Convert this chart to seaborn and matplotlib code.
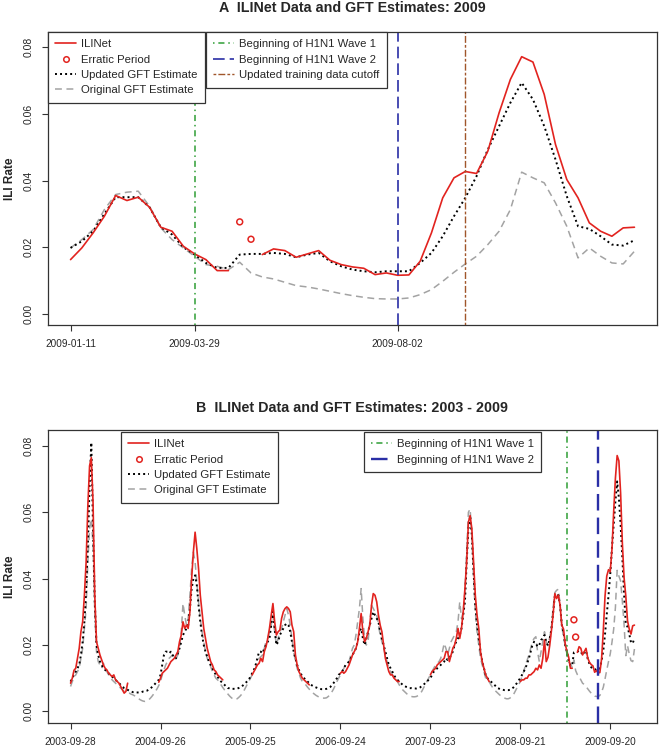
import matplotlib.pyplot as plt
import numpy as np
import pandas as pd
import seaborn as sns
from matplotlib.lines import Line2D

nan = np.nan

# ---------------- 2009 weekly values (panel A, also tail of panel B)
start_2009 = '2009-01-11'
ili_2009 = [0.0163, 0.0198, 0.0243, 0.0293, 0.0355, 0.034, 0.035, 0.032, 0.026, 0.0248,
            0.0203, 0.018, 0.0163, 0.013, 0.013, nan, nan, 0.0178, 0.0195, 0.019,
            0.017, 0.018, 0.019, 0.0161, 0.0148, 0.0141, 0.0137, 0.0118, 0.0123, 0.0116,
            0.0117, 0.0158, 0.0243, 0.0348, 0.0408, 0.0427, 0.0421, 0.0488, 0.0603, 0.0703,
            0.0771, 0.0755, 0.0658, 0.0508, 0.0403, 0.0348, 0.0273, 0.0248, 0.0233, 0.0258,
            0.026]
upd_2009 = [0.0198, 0.0218, 0.0248, 0.030, 0.035, 0.035, 0.035, 0.032, 0.026, 0.0238,
            0.020, 0.0178, 0.0153, 0.0138, 0.0138, 0.0178, 0.018, 0.018, 0.0183, 0.018,
            0.017, 0.0178, 0.0183, 0.0158, 0.0143, 0.0133, 0.0128, 0.0125, 0.0128, 0.0128,
            0.0128, 0.0153, 0.0183, 0.0233, 0.0293, 0.0348, 0.0413, 0.0493, 0.0563, 0.0633,
            0.0693, 0.0643, 0.0563, 0.0463, 0.0353, 0.0263, 0.0255, 0.0233, 0.0208, 0.0205,
            0.0221]
orig_2009 = [0.0198, 0.0223, 0.0253, 0.0313, 0.0358, 0.0365, 0.0368, 0.0323, 0.0258, 0.0223,
             0.0198, 0.0173, 0.0148, 0.0143, 0.0133, 0.0155, 0.0123, 0.0111, 0.0105, 0.0095,
             0.0085, 0.0081, 0.0075, 0.0068, 0.0061, 0.0055, 0.005, 0.0046, 0.0045, 0.0045,
             0.0048, 0.0058, 0.0073, 0.0098, 0.0125, 0.015, 0.0173, 0.0208, 0.0248, 0.0313,
             0.0425, 0.0408, 0.0393, 0.0333, 0.0263, 0.0168, 0.0198, 0.0173, 0.0153, 0.015,
             0.0188]

erratic_dates = ['2009-04-26', '2009-05-03']
erratic_vals = [0.0276, 0.0224]

# ---------------- weekly values 2003-09-28 .. 2009-01-04 (panel B)
start_hist = '2003-09-28'
upd_hist = [0.009, 0.010, 0.011, 0.012, 0.013, 0.014, 0.017, 0.021, 0.027, 0.036,
            0.050, 0.068, 0.081, 0.055, 0.033, 0.020, 0.017, 0.015, 0.014, 0.013,
            0.0125, 0.012, 0.0115, 0.011, 0.0105, 0.010, 0.0095, 0.009, 0.0085, 0.008,
            0.0075, 0.007, 0.0068, 0.0065, 0.0062, 0.006, 0.0058, 0.0058, 0.0057, 0.0057,
            0.0057, 0.0058, 0.006, 0.0061, 0.0062, 0.0065, 0.0068, 0.0073, 0.0078, 0.0084,
            0.009, 0.0095, 0.011, 0.014, 0.017, 0.018, 0.018, 0.0175, 0.018, 0.017,
            0.016, 0.016, 0.0175, 0.019, 0.021, 0.023, 0.024, 0.025, 0.026, 0.031,
            0.037, 0.040, 0.041, 0.038, 0.032, 0.027, 0.023, 0.020, 0.018, 0.0165,
            0.015, 0.014, 0.013, 0.012, 0.011, 0.0105, 0.0095, 0.009, 0.0085, 0.008,
            0.0075, 0.007, 0.007, 0.0068, 0.0068, 0.0068, 0.0068, 0.007, 0.0072, 0.0075,
            0.008, 0.0085, 0.009, 0.0095, 0.0105, 0.0115, 0.0125, 0.014, 0.016, 0.018,
            0.018, 0.0175, 0.019, 0.020, 0.021, 0.022, 0.026, 0.030, 0.025, 0.020,
            0.021, 0.023, 0.024, 0.025, 0.026, 0.0265, 0.026, 0.024, 0.021, 0.018,
            0.016, 0.014, 0.0125, 0.0115, 0.0105, 0.010, 0.0095, 0.009, 0.0085, 0.008,
            0.0077, 0.0074, 0.0072, 0.007, 0.0068, 0.0067, 0.0067, 0.0067, 0.0068, 0.007,
            0.0073, 0.0078, 0.0085, 0.0093, 0.010, 0.011, 0.0115, 0.012, 0.013, 0.014,
            0.0145, 0.015, 0.016, 0.017, 0.018, 0.019, 0.021, 0.024, 0.025, 0.022,
            0.020, 0.022, 0.024, 0.026, 0.028, 0.030, 0.029, 0.028, 0.027, 0.024,
            0.022, 0.020, 0.018, 0.016, 0.014, 0.013, 0.012, 0.011, 0.010, 0.0095,
            0.009, 0.0085, 0.008, 0.0077, 0.0074, 0.0072, 0.007, 0.007, 0.0069, 0.0069,
            0.0069, 0.007, 0.0072, 0.0076, 0.008, 0.0085, 0.009, 0.0095, 0.010, 0.011,
            0.012, 0.0125, 0.013, 0.0135, 0.014, 0.0145, 0.015, 0.016, 0.0155, 0.016,
            0.017, 0.018, 0.020, 0.021, 0.022, 0.023, 0.025, 0.029, 0.033, 0.045,
            0.055, 0.059, 0.053, 0.042, 0.032, 0.026, 0.022, 0.018, 0.015, 0.013,
            0.011, 0.010, 0.0095, 0.009, 0.0085, 0.008, 0.0075, 0.007, 0.0068, 0.0066,
            0.0065, 0.0064, 0.0064, 0.0064, 0.0065, 0.0068, 0.0072, 0.0078, 0.0085, 0.0093,
            0.010, 0.011, 0.012, 0.013, 0.0145, 0.016, 0.018, 0.020, 0.021, 0.0205,
            0.0195, 0.020, 0.0215, 0.022, 0.023, 0.021]
orig_hist = [0.0075, 0.009, 0.010, 0.011, 0.012, 0.013, 0.016, 0.019, 0.025, 0.031,
             0.045, 0.055, 0.058, 0.050, 0.030, 0.018, 0.015, 0.014, 0.013, 0.0145,
             0.013, 0.012, 0.011, 0.0105, 0.0095, 0.009, 0.0085, 0.008, 0.0075, 0.007,
             0.0065, 0.006, 0.0058, 0.0056, 0.0055, 0.0052, 0.005, 0.0047, 0.0043, 0.004,
             0.0036, 0.0033, 0.0031, 0.003, 0.0031, 0.0034, 0.0039, 0.0045, 0.0052, 0.006,
             0.0068, 0.0078, 0.009, 0.011, 0.0125, 0.014, 0.015, 0.016, 0.0165, 0.017,
             0.0165, 0.016, 0.017, 0.019, 0.024, 0.0325, 0.029, 0.026, 0.028, 0.035,
             0.043, 0.048, 0.045, 0.039, 0.033, 0.028, 0.024, 0.021, 0.018, 0.016,
             0.015, 0.0135, 0.012, 0.011, 0.010, 0.0095, 0.009, 0.008, 0.0072, 0.0065,
             0.006, 0.0052, 0.0046, 0.0041, 0.0037, 0.0035, 0.0037, 0.0041, 0.0046, 0.0052,
             0.006, 0.007, 0.008, 0.009, 0.010, 0.011, 0.012, 0.013, 0.0145, 0.016,
             0.0165, 0.017, 0.019, 0.021, 0.022, 0.024, 0.026, 0.029, 0.024, 0.020,
             0.022, 0.024, 0.025, 0.027, 0.029, 0.031, 0.029, 0.026, 0.022, 0.018,
             0.015, 0.013, 0.0115, 0.010, 0.009, 0.0085, 0.008, 0.0073, 0.0067, 0.006,
             0.0056, 0.0052, 0.0048, 0.0045, 0.0042, 0.004, 0.004, 0.004, 0.0041, 0.0045,
             0.005, 0.0058, 0.0067, 0.0078, 0.009, 0.010, 0.011, 0.012, 0.013, 0.014,
             0.0145, 0.015, 0.017, 0.019, 0.020, 0.023, 0.027, 0.031, 0.037, 0.028,
             0.022, 0.020, 0.021, 0.027, 0.032, 0.031, 0.030, 0.029, 0.026, 0.023,
             0.021, 0.019, 0.017, 0.015, 0.013, 0.012, 0.011, 0.0105, 0.010, 0.009,
             0.008, 0.0072, 0.0065, 0.006, 0.0055, 0.005, 0.0047, 0.0045, 0.0044, 0.0044,
             0.0045, 0.0048, 0.0053, 0.006, 0.007, 0.008, 0.009, 0.010, 0.011, 0.012,
             0.013, 0.014, 0.0145, 0.015, 0.016, 0.018, 0.0205, 0.019, 0.017, 0.019,
             0.021, 0.022, 0.023, 0.024, 0.027, 0.033, 0.028, 0.030, 0.036, 0.048,
             0.060, 0.061, 0.053, 0.040, 0.030, 0.024, 0.020, 0.016, 0.014, 0.012,
             0.010, 0.0095, 0.009, 0.008, 0.0072, 0.0065, 0.006, 0.0055, 0.005, 0.0046,
             0.0042, 0.004, 0.0038, 0.0038, 0.004, 0.0045, 0.005, 0.006, 0.007, 0.008,
             0.009, 0.0105, 0.012, 0.014, 0.0155, 0.017, 0.019, 0.021, 0.022, 0.0225,
             0.018, 0.015, 0.018, 0.021, 0.024, 0.021]

# ILINet is only reported during the flu season
ili_0304 = [0.0085, 0.010, 0.0124, 0.013, 0.016, 0.019, 0.024, 0.027, 0.035, 0.045,
            0.062, 0.074, 0.0765, 0.063, 0.035, 0.021, 0.019, 0.017, 0.0155, 0.014,
            0.013, 0.0125, 0.0115, 0.011, 0.0105, 0.011, 0.0095, 0.009, 0.0085, 0.0075,
            0.0065, 0.0055, 0.006, 0.0085]
ili_0405 = [0.0088, 0.010, 0.0115, 0.012, 0.0125, 0.013, 0.014, 0.015, 0.0155, 0.016,
            0.017, 0.018, 0.021, 0.023, 0.027, 0.025, 0.026, 0.025, 0.030, 0.040,
            0.048, 0.054, 0.049, 0.043, 0.035, 0.030, 0.025, 0.022, 0.019, 0.017,
            0.015, 0.014, 0.0125, 0.012, 0.011, 0.0105, 0.010, 0.0095]
ili_0506 = [0.011, 0.012, 0.013, 0.014, 0.0145, 0.016, 0.015, 0.018, 0.0195, 0.022,
            0.025, 0.029, 0.0325, 0.027, 0.023, 0.024, 0.0245, 0.028, 0.030, 0.031,
            0.0315, 0.031, 0.030, 0.026, 0.024, 0.017, 0.014, 0.012, 0.011, 0.010,
            0.0095, 0.009, 0.0085, 0.008]
ili_0607 = [0.0115, 0.012, 0.0115, 0.012, 0.013, 0.014, 0.0155, 0.017, 0.018, 0.019,
            0.021, 0.025, 0.0295, 0.024, 0.021, 0.022, 0.024, 0.026, 0.032, 0.0355,
            0.035, 0.033, 0.029, 0.026, 0.024, 0.020, 0.016, 0.014, 0.012, 0.011,
            0.011, 0.010, 0.0095, 0.009, 0.009]
ili_0708 = [0.011, 0.012, 0.0125, 0.013, 0.014, 0.0145, 0.015, 0.0155, 0.016, 0.018,
            0.018, 0.015, 0.017, 0.019, 0.020, 0.022, 0.025, 0.022, 0.025, 0.030,
            0.037, 0.045, 0.057, 0.059, 0.055, 0.045, 0.035, 0.029, 0.025, 0.018,
            0.015, 0.013, 0.011, 0.010, 0.009]
ili_0809 = [0.009, 0.0095, 0.0095, 0.010, 0.010, 0.011, 0.011, 0.0115, 0.012, 0.013,
            0.0125, 0.014, 0.013, 0.016, 0.0215, 0.015]
season_starts = ['2003-09-28', '2004-09-19', '2005-10-02', '2006-09-24', '2007-09-23']

ticks_a = ['2009-01-11', '2009-03-29', '2009-08-02']
ticks_b = ['2003-09-28', '2004-09-26', '2005-09-25', '2006-09-24',
           '2007-09-23', '2008-09-21', '2009-09-20']
wave1 = '2009-03-29'
wave2 = '2009-08-02'
cutoff = '2009-09-13'

RED = '#e2231f'
GRAY = '#a3a3a3'
GREEN = '#2f9e35'
BLUE = '#2a2fa6'
BROWN = '#a0562a'


def weekly(start, values):
    return pd.DataFrame({'date': pd.date_range(start, periods=len(values), freq='7D'),
                         'value': values})


def with_segments(df):
    df = df.copy()
    df['seg'] = df['value'].isna().cumsum()
    return df.dropna()


# panel A frames
a_ili = with_segments(weekly(start_2009, ili_2009))
a_upd = weekly(start_2009, upd_2009)
a_orig = weekly(start_2009, orig_2009)
erratic = pd.DataFrame({'date': pd.to_datetime(erratic_dates), 'value': erratic_vals})

# panel B frames
b_upd = pd.concat([weekly(start_hist, upd_hist), a_upd], ignore_index=True)
b_orig = pd.concat([weekly(start_hist, orig_hist), a_orig], ignore_index=True)
seasons = [weekly(s, v) for s, v in zip(season_starts,
                                        [ili_0304, ili_0405, ili_0506, ili_0607, ili_0708])]
last = pd.concat([weekly('2008-09-21', ili_0809), weekly(start_2009, ili_2009)],
                 ignore_index=True)
b_ili_parts = []
for i, s in enumerate(seasons):
    s = s.copy()
    s['seg'] = i
    b_ili_parts.append(s)
last = with_segments(last)
last['seg'] = last['seg'] + 10
b_ili_parts.append(last)
b_ili = pd.concat(b_ili_parts, ignore_index=True)

sns.set_style('ticks')
plt.rcParams['font.family'] = ['Liberation Sans', 'DejaVu Sans']

fig = plt.figure(figsize=(6.61, 7.51), dpi=100)
ax_a = fig.add_axes([48 / 661, 1 - 325 / 751, 609 / 661, 293 / 751])
ax_b = fig.add_axes([48 / 661, 1 - 723 / 751, 609 / 661, 293 / 751])

ls_upd = (0, (1, 1.6))
ls_orig = (0, (4.5, 3))
ls_green = (0, (1, 2.5, 4, 2.5))
ls_blue = (0, (7, 3))
ls_brown = (0, (2, 1.5, 5, 1.5))


def draw(ax, ili, upd, orig, blue_lw):
    sns.lineplot(data=orig, x='date', y='value', color=GRAY, lw=1.1,
                 linestyle=ls_orig, ax=ax)
    sns.lineplot(data=upd, x='date', y='value', color='black', lw=1.4,
                 linestyle=ls_upd, ax=ax)
    sns.lineplot(data=ili, x='date', y='value', units='seg', estimator=None,
                 color=RED, lw=1.2, ax=ax)
    sns.scatterplot(data=erratic, x='date', y='value', marker='o', s=18,
                    facecolors='none', edgecolor=RED, linewidth=1.1, ax=ax)
    ax.axvline(pd.Timestamp(wave1), color=GREEN, lw=1.1, linestyle=ls_green)
    ax.axvline(pd.Timestamp(wave2), color=BLUE, lw=blue_lw, linestyle=ls_blue)


draw(ax_a, a_ili, a_upd, a_orig, 1.2)
ax_a.axvline(pd.Timestamp(cutoff), color=BROWN, lw=1.0, linestyle=ls_brown)
draw(ax_b, b_ili, b_upd, b_orig, 1.7)

for ax, first, n, ticks, ylim in [
        (ax_a, start_2009, 50, ticks_a, (-0.0033, 0.0845)),
        (ax_b, start_hist, 326, ticks_b, (-0.0035, 0.0848))]:
    t0 = pd.Timestamp(first)
    pad = pd.Timedelta(weeks=0.04 * n)
    ax.set_xlim(t0 - pad, t0 + pd.Timedelta(weeks=n) + pad)
    ax.set_ylim(*ylim)
    ax.set_xticks(pd.to_datetime(ticks))
    ax.set_xticklabels(ticks, fontsize=7.2)
    ax.set_yticks([0, 0.02, 0.04, 0.06, 0.08])
    ax.set_yticklabels(['0.00', '0.02', '0.04', '0.06', '0.08'], fontsize=7.5,
                       rotation=90, va='center')
    ax.tick_params(direction='out', length=4, width=0.8, color='#333333', pad=6)
    ax.set_xlabel('')
    ax.set_ylabel('ILI Rate', fontsize=8.5, fontweight='bold', labelpad=6)
    for sp in ax.spines.values():
        sp.set_visible(True)
        sp.set_color('#333333')
        sp.set_linewidth(0.9)

fig.text(352 / 661, 1 - 8 / 751, 'A  ILINet Data and GFT Estimates: 2009',
         ha='center', va='center', fontsize=10.3, fontweight='bold')
fig.text(352 / 661, 1 - 408 / 751, 'B  ILINet Data and GFT Estimates: 2003 - 2009',
         ha='center', va='center', fontsize=10.3, fontweight='bold')

series_handles = [
    Line2D([], [], color=RED, lw=1.2),
    Line2D([], [], color=RED, marker='o', ls='none', markersize=4,
           markerfacecolor='none', markeredgewidth=1.1),
    Line2D([], [], color='black', lw=1.4, ls=ls_upd),
    Line2D([], [], color=GRAY, lw=1.1, ls=ls_orig),
]
series_labels = ['ILINet', 'Erratic Period', 'Updated GFT Estimate', 'Original GFT Estimate']

leg_kw = dict(fontsize=8.2, frameon=True, fancybox=False, framealpha=1,
              edgecolor='#333333', borderaxespad=0, borderpad=0.65,
              labelspacing=0.47, handlelength=1.8, handletextpad=0.45,
              loc='upper left', bbox_transform=fig.transFigure)


def add_legends(ax, pos1, pos2, lines2, labels2):
    leg1 = ax.legend(series_handles, series_labels, bbox_to_anchor=pos1, **leg_kw)
    leg1.get_frame().set_linewidth(0.9)
    ax.add_artist(leg1)
    leg2 = ax.legend(lines2, labels2, bbox_to_anchor=pos2, **leg_kw)
    leg2.get_frame().set_linewidth(0.9)


wave_handles = [Line2D([], [], color=GREEN, lw=1.1, ls=ls_green),
                Line2D([], [], color=BLUE, lw=1.2, ls=ls_blue)]
wave_labels = ['Beginning of H1N1 Wave 1', 'Beginning of H1N1 Wave 2']

add_legends(ax_a, (48 / 661, 1 - 32 / 751), (206 / 661, 1 - 32 / 751),
            wave_handles + [Line2D([], [], color=BROWN, lw=1.0, ls=ls_brown)],
            wave_labels + ['Updated training data cutoff'])
add_legends(ax_b, (121 / 661, 1 - 432 / 751), (364 / 661, 1 - 432 / 751),
            [Line2D([], [], color=GREEN, lw=1.1, ls=ls_green),
             Line2D([], [], color=BLUE, lw=1.7, ls=ls_blue)],
            wave_labels)

fig.savefig('out.png', dpi=100)
